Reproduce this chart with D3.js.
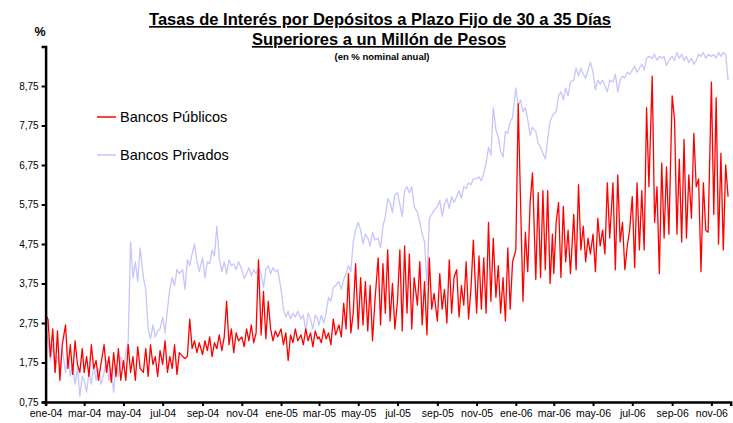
<!DOCTYPE html>
<html><head><meta charset="utf-8">
<script src="https://cdn.jsdelivr.net/npm/d3@7"></script>
<style>
html,body{margin:0;padding:0;background:#fff;}
svg text{font-family:"Liberation Sans",Arial,sans-serif;}
</style></head>
<body><svg id="c" width="733" height="423"></svg>
<script>
// ---- data (8 readings per month, ene-04 .. nov-06) ----
const monthNames = ["ene","feb","mar","abr","may","jun","jul","ago","sep","oct","nov","dic"];
const yTickValues = [0.75,1.75,2.75,3.75,4.75,5.75,6.75,7.75,8.75];
const xTickLabels = ["ene-04","mar-04","may-04","jul-04","sep-04","nov-04","ene-05","mar-05","may-05","jul-05","sep-05","nov-05","ene-06","mar-06","may-06","jul-06","sep-06","nov-06"];
const seriesNames = ["Bancos Públicos","Bancos Privados"];

const bancosPublicos = [
 2.95,2.85,1.9,2.6,1.5,2.55,1.3,2.2,
 2.7,1.6,2.2,1.45,2.3,1.7,1.5,2.1,
 1.5,1.9,1.4,2.2,1.6,1.8,1.3,1.7,
 2.2,1.5,1.9,1.25,2.0,1.4,2.1,1.3,
 1.8,1.3,2.2,1.5,1.9,1.3,2.15,1.6,
 1.5,2.1,1.4,2.2,1.7,1.9,1.4,2.05,
 1.7,2.3,1.5,1.9,1.6,2.2,1.45,2.0,
 1.9,1.85,1.9,2.85,2.1,2.3,2.0,2.25,
 1.95,2.3,2.05,2.4,1.9,2.25,2.1,2.45,
 2.05,2.4,3.3,2.2,2.6,2.0,2.5,2.3,
 2.4,2.15,2.6,2.3,2.7,2.25,2.5,4.35,
 2.45,3.55,2.35,3.3,2.6,2.3,2.55,2.4,
 2.6,2.2,2.5,1.8,2.45,2.25,2.6,2.3,
 2.45,2.2,2.6,2.3,2.5,2.15,2.55,2.35,
 2.4,2.25,2.6,2.35,2.5,2.2,2.85,2.45,
 2.7,2.4,3.25,2.6,4.0,2.5,3.0,4.25,
 2.6,3.9,2.7,3.8,2.55,3.7,2.3,3.3,
 4.4,2.7,4.25,3.0,4.6,2.8,3.75,2.6,
 3.3,4.6,2.55,4.7,3.0,4.5,2.6,3.9,
 3.2,4.3,2.7,3.8,2.45,4.4,3.1,3.5,
 2.8,4.0,3.1,3.6,2.75,4.35,3.0,3.9,
 4.1,2.9,3.7,3.2,4.3,2.85,3.6,4.85,
 3.0,4.45,3.1,4.4,3.0,5.3,3.3,4.9,
 3.4,4.2,3.0,3.9,2.8,4.65,3.1,4.3,
 4.6,8.3,5.75,3.3,5.05,4.05,5.8,6.55,
 3.85,6.05,3.9,6.1,4.1,6.1,3.75,5.0,
 4.0,5.3,5.8,3.9,5.7,4.3,5.1,4.0,
 5.5,4.1,6.25,4.6,5.2,4.3,4.9,4.5,
 5.0,4.05,5.4,4.7,5.1,4.5,6.3,4.9,
 6.3,4.1,6.5,4.8,5.3,4.1,4.7,5.1,
 5.95,4.15,6.3,4.6,6.1,4.6,8.2,6.2,
 9.0,5.3,6.2,4.0,6.8,4.9,6.7,5.0,
 8.5,7.9,5.0,6.9,4.8,7.4,4.9,6.5,
 5.4,7.55,6.2,6.4,4.05,6.3,5.1,5.05,
 8.85,5.5,8.45,4.75,7.05,4.6,6.75,5.95
];

const bancosPrivados = [
 2.75,2.3,1.8,2.2,1.5,1.9,1.6,2.1,
 1.5,1.9,1.4,1.7,1.2,1.6,0.9,1.4,
 1.3,1.0,1.5,1.2,1.7,1.3,1.6,1.2,
 1.5,1.8,1.3,1.6,1.0,1.7,1.4,1.9,
 1.6,2.0,2.3,4.8,3.9,4.3,3.8,4.65,
 3.9,3.6,2.6,2.35,2.7,2.4,2.55,2.6,
 2.9,2.5,3.1,3.6,3.9,3.7,4.1,4.0,
 4.1,3.6,4.35,4.2,4.5,4.75,4.3,4.05,
 4.4,3.9,4.3,4.25,4.6,4.45,5.2,4.4,
 4.05,4.3,4.0,4.35,4.2,4.25,4.1,4.3,
 4.1,3.88,4.0,4.15,3.95,4.1,4.0,4.15,
 4.0,3.65,4.1,4.2,4.0,4.15,4.05,4.1,
 3.6,3.1,2.9,3.05,2.85,3.0,2.9,3.05,
 2.85,2.95,2.55,3.0,2.85,2.6,2.95,2.85,
 2.7,2.95,2.75,3.0,3.4,3.3,3.65,3.7,
 3.8,3.6,3.85,4.0,4.2,4.05,4.8,5.1,
 5.3,5.1,4.75,5.0,4.9,4.7,5.05,4.85,
 4.9,4.65,5.2,5.45,5.9,5.8,5.55,6.0,
 6.05,5.75,5.45,6.1,6.2,6.05,6.2,5.7,
 5.55,5.3,5.0,4.8,3.7,5.4,5.5,5.6,
 5.7,5.85,5.45,5.75,5.9,5.65,5.95,5.8,
 5.95,6.1,5.9,6.2,6.15,6.3,6.25,6.4,
 6.4,6.45,6.35,6.55,6.8,7.2,7.0,8.2,
 7.65,7.45,7.1,6.95,7.6,7.55,7.85,7.95,
 8.7,8.25,8.4,8.1,8.2,7.9,7.5,7.7,
 7.6,7.3,7.2,7.05,6.9,7.4,7.85,8.0,
 8.05,8.1,8.5,8.6,8.4,8.7,8.5,8.85,
 8.9,9.2,9.0,9.2,9.05,8.95,9.15,9.35,
 9.1,8.65,8.9,8.8,8.9,8.75,8.6,8.9,
 8.85,9.05,8.6,8.9,9.0,8.95,9.1,9.05,
 9.15,9.25,9.1,9.2,9.3,9.15,9.45,9.5,
 9.45,9.55,9.4,9.5,9.45,9.5,9.27,9.4,
 9.5,9.4,9.6,9.45,9.55,9.4,9.5,9.35,
 9.45,9.3,9.4,9.55,9.5,9.6,9.45,9.55,
 9.5,9.55,9.45,9.6,9.5,9.6,9.55,8.9
];

// reading dates: 8 per month starting Jan 2004
const perMonth = 8;
const dates = bancosPublicos.map((_, i) => new Date(2004, Math.floor(i / perMonth), 1, Math.round((i % perMonth) * 3.7 * 24)));

// ---- chart ----
const svg = d3.select("#c");
const x = d3.scaleTime().domain([new Date(2004,0,1), new Date(2006,11,1)]).range([45.6, 730.7]);
const y = d3.scaleLinear().domain([0.75, 9.75]).range([402, 46.5]);

const line = d3.line().x((d,i)=>x(dates[i])).y(d=>y(d));

svg.append("path").datum(bancosPrivados).attr("d", line)
  .attr("fill","none").attr("stroke","#c6c6fb").attr("stroke-width",1.3).attr("stroke-linejoin","round");
svg.append("path").datum(bancosPublicos).attr("d", line)
  .attr("fill","none").attr("stroke","#ff0000").attr("stroke-width",1.3).attr("stroke-linejoin","round");

// axes
const tickDates = xTickLabels.map((_, i) => new Date(2004, i*2, 1));
const xAxis = d3.axisBottom(x).tickValues(tickDates).tickSize(4).tickPadding(4)
  .tickFormat((d, i) => xTickLabels[i]);
const gx = svg.append("g").attr("transform","translate(0,402)").call(xAxis);
gx.select(".domain").attr("stroke","#000").attr("stroke-width",2.5);
gx.selectAll(".tick line").attr("stroke","#000").attr("stroke-width",2);
gx.selectAll(".tick text").attr("font-size","10.5px").attr("fill","#000");

const yAxis = d3.axisLeft(y).tickValues(yTickValues).tickSize(4).tickPadding(3)
  .tickFormat(d => d3.format(".2f")(d).replace(".", ","));
const gy = svg.append("g").attr("transform","translate(45.6,0)").call(yAxis);
gy.select(".domain").attr("stroke","#000").attr("stroke-width",2.5);
gy.selectAll(".tick line").attr("stroke","#000").attr("stroke-width",2);
gy.selectAll(".tick text").attr("font-size","10px").attr("fill","#000");

// titles
svg.append("text").attr("x",380).attr("y",25).attr("text-anchor","middle")
  .attr("font-size","16.5px").attr("font-weight","bold").attr("text-decoration","underline")
  .text("Tasas de Interés por Depósitos a Plazo Fijo de 30 a 35 Días");
svg.append("text").attr("x",379).attr("y",45).attr("text-anchor","middle")
  .attr("font-size","16.5px").attr("font-weight","bold").attr("text-decoration","underline")
  .text("Superiores a un Millón de Pesos");
svg.append("text").attr("x",382).attr("y",60).attr("text-anchor","middle")
  .attr("font-size","9.5px").attr("font-weight","bold").text("(en % nominal anual)");
svg.append("text").attr("x",40).attr("y",36).attr("text-anchor","middle")
  .attr("font-size","12.5px").attr("font-weight","bold").text("%");

// legend
const legColors = ["#ff0000","#c6c6fb"];
const legY = [117, 155];
seriesNames.forEach((n, i) => {
  svg.append("line").attr("x1",97).attr("x2",116).attr("y1",legY[i]).attr("y2",legY[i])
    .attr("stroke",legColors[i]).attr("stroke-width",1.5);
  svg.append("text").attr("x",120).attr("y",legY[i]+5).attr("font-size","14.5px").attr("fill","#000").text(n);
});
</script></body></html>
